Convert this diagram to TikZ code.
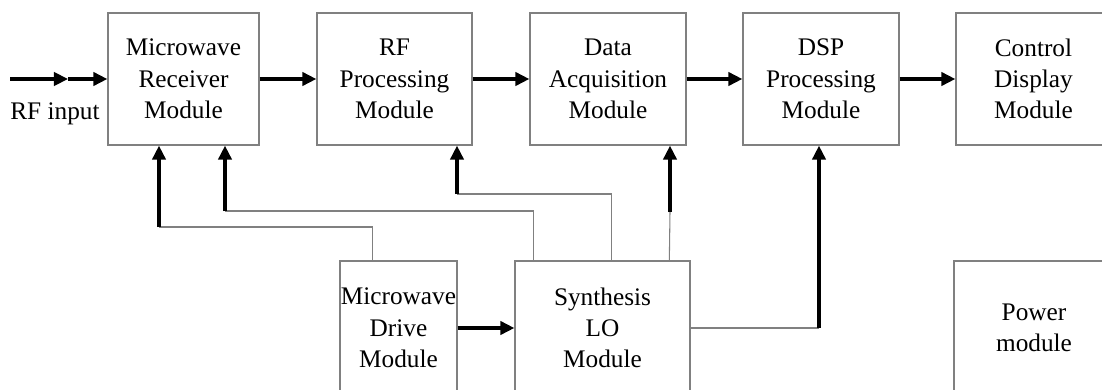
\documentclass[tikz,border=0pt]{standalone}
\usepackage{fontspec}
\setmainfont{Liberation Serif}
\usetikzlibrary{arrows.meta}

\tikzset{
  module/.style={draw=black!50, line width=0.75pt, align=center, inner sep=0.5pt,
    minimum height=2.64cm, font=\fontsize{14.4}{17.8}\selectfont},
  lower/.style={module, minimum height=2.68cm},
  sig/.style={->, line width=1.8pt, black},
  wire/.style={draw=black!50, line width=0.6pt},
}

\begin{document}
\begin{tikzpicture}[x=0.02cm, y=-0.02cm, >={Triangle[length=8pt, width=7.6pt]}]

    \useasboundingbox (0,0) rectangle (1102,389);
    \clip (0,0) rectangle (1102,389);

    % Top row of modules
    \node[module, minimum width=3.02cm] (receiver) at (183.5,79) {Microwave\\Receiver\\Module};
    \node[module, minimum width=3.10cm] (rfproc) at (394.5,79) {RF\\Processing\\Module};
    \node[module, minimum width=3.12cm] (daq) at (608,79) {Data\\Acquisition\\Module};
    \node[module, minimum width=3.12cm] (dsp) at (821,79) {DSP\\Processing\\Module};
    \node[module, minimum width=3.10cm] (display) at (1033.5,79) {Control\\Display\\Module};

    % Bottom row of modules
    \node[lower, minimum width=2.34cm] (drive) at (398.5,328) {Microwave\\Drive\\Module};
    \node[lower, minimum width=3.50cm] (synth) at (602.5,328) {Synthesis\\LO\\Module};
    \node[lower, minimum width=3.20cm] (power) at (1034,328) {Power\\module};

    % RF input
    \coordinate (rfin) at (10,79);
    \coordinate (rfmid) at (68,79);
    \node[font=\fontsize{14.4}{17.8}\selectfont] (rflabel) at (55,114) {RF input};
    \draw[sig] (rfin) -- (rfmid);
    \draw[sig] (rfmid) -- (receiver.west);

    % Signal chain
    \draw[sig] (receiver.east) -- (rfproc.west);
    \draw[sig] (rfproc.east) -- (daq.west);
    \draw[sig] (daq.east) -- (dsp.west);
    \draw[sig] (dsp.east) -- (display.west);
    \draw[sig] (drive.east) -- (synth.west);

    % Taps on the bottom modules
    \coordinate (d1) at ([xshift=0.66cm]drive.north west);
    \coordinate (s1) at ([xshift=0.38cm]synth.north west);
    \coordinate (s2) at ([xshift=1.94cm]synth.north west);
    \coordinate (s3) at ([xshift=3.10cm]synth.north west);

    % Bends
    \coordinate (b1) at (159,227);
    \coordinate (b2) at (225,211);
    \coordinate (b3) at (457,194);
    \coordinate (b4) at (670,212);
    \coordinate (b5) at (819,328);

    % Feed lines
    \draw[wire] (d1) |- (b1);
    \draw[sig] (b1) -- (b1 |- receiver.south);

    \draw[wire] (s1) |- (b2);
    \draw[sig] (b2) -- (b2 |- receiver.south);

    \draw[wire] (s2) |- (b3);
    \draw[sig] (b3) -- (b3 |- rfproc.south);

    \draw[wire] (s3) -- (b4);
    \draw[sig] (b4) -- (b4 |- daq.south);

    \draw[wire] (synth.east) -- (b5);
    \draw[sig] (b5) -- (b5 |- dsp.south);

\end{tikzpicture}
\end{document}
